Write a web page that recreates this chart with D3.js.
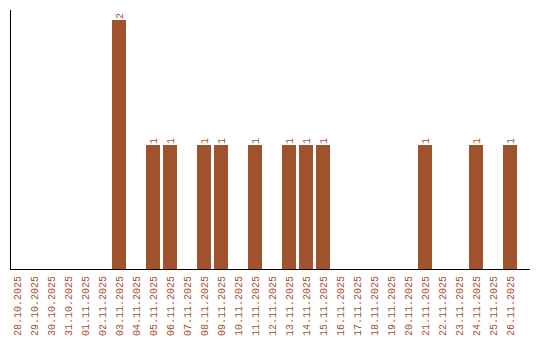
<!DOCTYPE html>
<html>
<head>
<meta charset="utf-8">
<script src="https://cdn.jsdelivr.net/npm/d3@7"></script>
<style>
  html, body { margin: 0; padding: 0; background: #fff; }
  #chart svg { display: block; }
  .lbl { font-family: "Liberation Mono", monospace; font-size: 10px; fill: #a0522d; }
</style>
</head>
<body>
<div id="chart"></div>
<script>
  // dates on the x axis
  var dates = [
    "28.10.2025", "29.10.2025", "30.10.2025", "31.10.2025", "01.11.2025", "02.11.2025",
    "03.11.2025", "04.11.2025", "05.11.2025", "06.11.2025", "07.11.2025", "08.11.2025",
    "09.11.2025", "10.11.2025", "11.11.2025", "12.11.2025", "13.11.2025", "14.11.2025",
    "15.11.2025", "16.11.2025", "17.11.2025", "18.11.2025", "19.11.2025", "20.11.2025",
    "21.11.2025", "22.11.2025", "23.11.2025", "24.11.2025", "25.11.2025", "26.11.2025"
  ];
  // count per date
  var counts = [
    0, 0, 0, 0, 0, 0,
    2, 0, 1, 1, 0, 1,
    1, 0, 1, 0, 1, 1,
    1, 0, 0, 0, 0, 0,
    1, 0, 0, 1, 0, 1
  ];
  var yMax = 2;

  var W = 540, H = 340;
  var BAR = "#a0522d";

  var svg = d3.select("#chart").append("svg")
    .attr("width", W).attr("height", H);

  var x = d3.scaleBand().domain(dates).range([8.5, 518.5]).paddingInner(0.18).paddingOuter(0.09);
  var y = d3.scaleLinear().domain([0, yMax]).range([270, 20]);

  var data = dates.map(function (d, i) { return { date: d, n: counts[i] }; });

  // bars
  svg.append("g").selectAll("rect").data(data.filter(function (d) { return d.n > 0; }))
    .enter().append("rect")
    .attr("x", function (d) { return Math.round(x(d.date)); })
    .attr("y", function (d) { return y(d.n); })
    .attr("width", Math.round(x.bandwidth()))
    .attr("height", function (d) { return y(0) - y(d.n); })
    .attr("fill", BAR)
    .attr("shape-rendering", "crispEdges");

  // value labels above bars (rotated)
  svg.append("g").selectAll("text").data(data.filter(function (d) { return d.n > 0; }))
    .enter().append("text")
    .attr("class", "lbl")
    .attr("transform", function (d) {
      var cx = Math.round(x(d.date)) + Math.round(x.bandwidth()) / 2;
      return "translate(" + cx + "," + (y(d.n) - 1) + ") rotate(-90)";
    })
    .attr("dy", "0.35em")
    .attr("text-anchor", "start")
    .text(function (d) { return d.n; });

  // axes lines
  svg.append("line").attr("x1", 10.5).attr("x2", 10.5).attr("y1", 10).attr("y2", 270)
    .attr("stroke", "#000").attr("stroke-width", 1).attr("shape-rendering", "crispEdges");
  svg.append("line").attr("x1", 10).attr("x2", 530).attr("y1", 269.5).attr("y2", 269.5)
    .attr("stroke", "#000").attr("stroke-width", 1).attr("shape-rendering", "crispEdges");

  // date labels
  svg.append("g").selectAll("text").data(dates)
    .enter().append("text")
    .attr("class", "lbl")
    .attr("transform", function (d) {
      var cx = Math.round(x(d)) + Math.round(x.bandwidth()) / 2;
      return "translate(" + cx + ",276) rotate(-90)";
    })
    .attr("dy", "0.35em")
    .attr("text-anchor", "end")
    .text(function (d) { return d; });
</script>
</body>
</html>
